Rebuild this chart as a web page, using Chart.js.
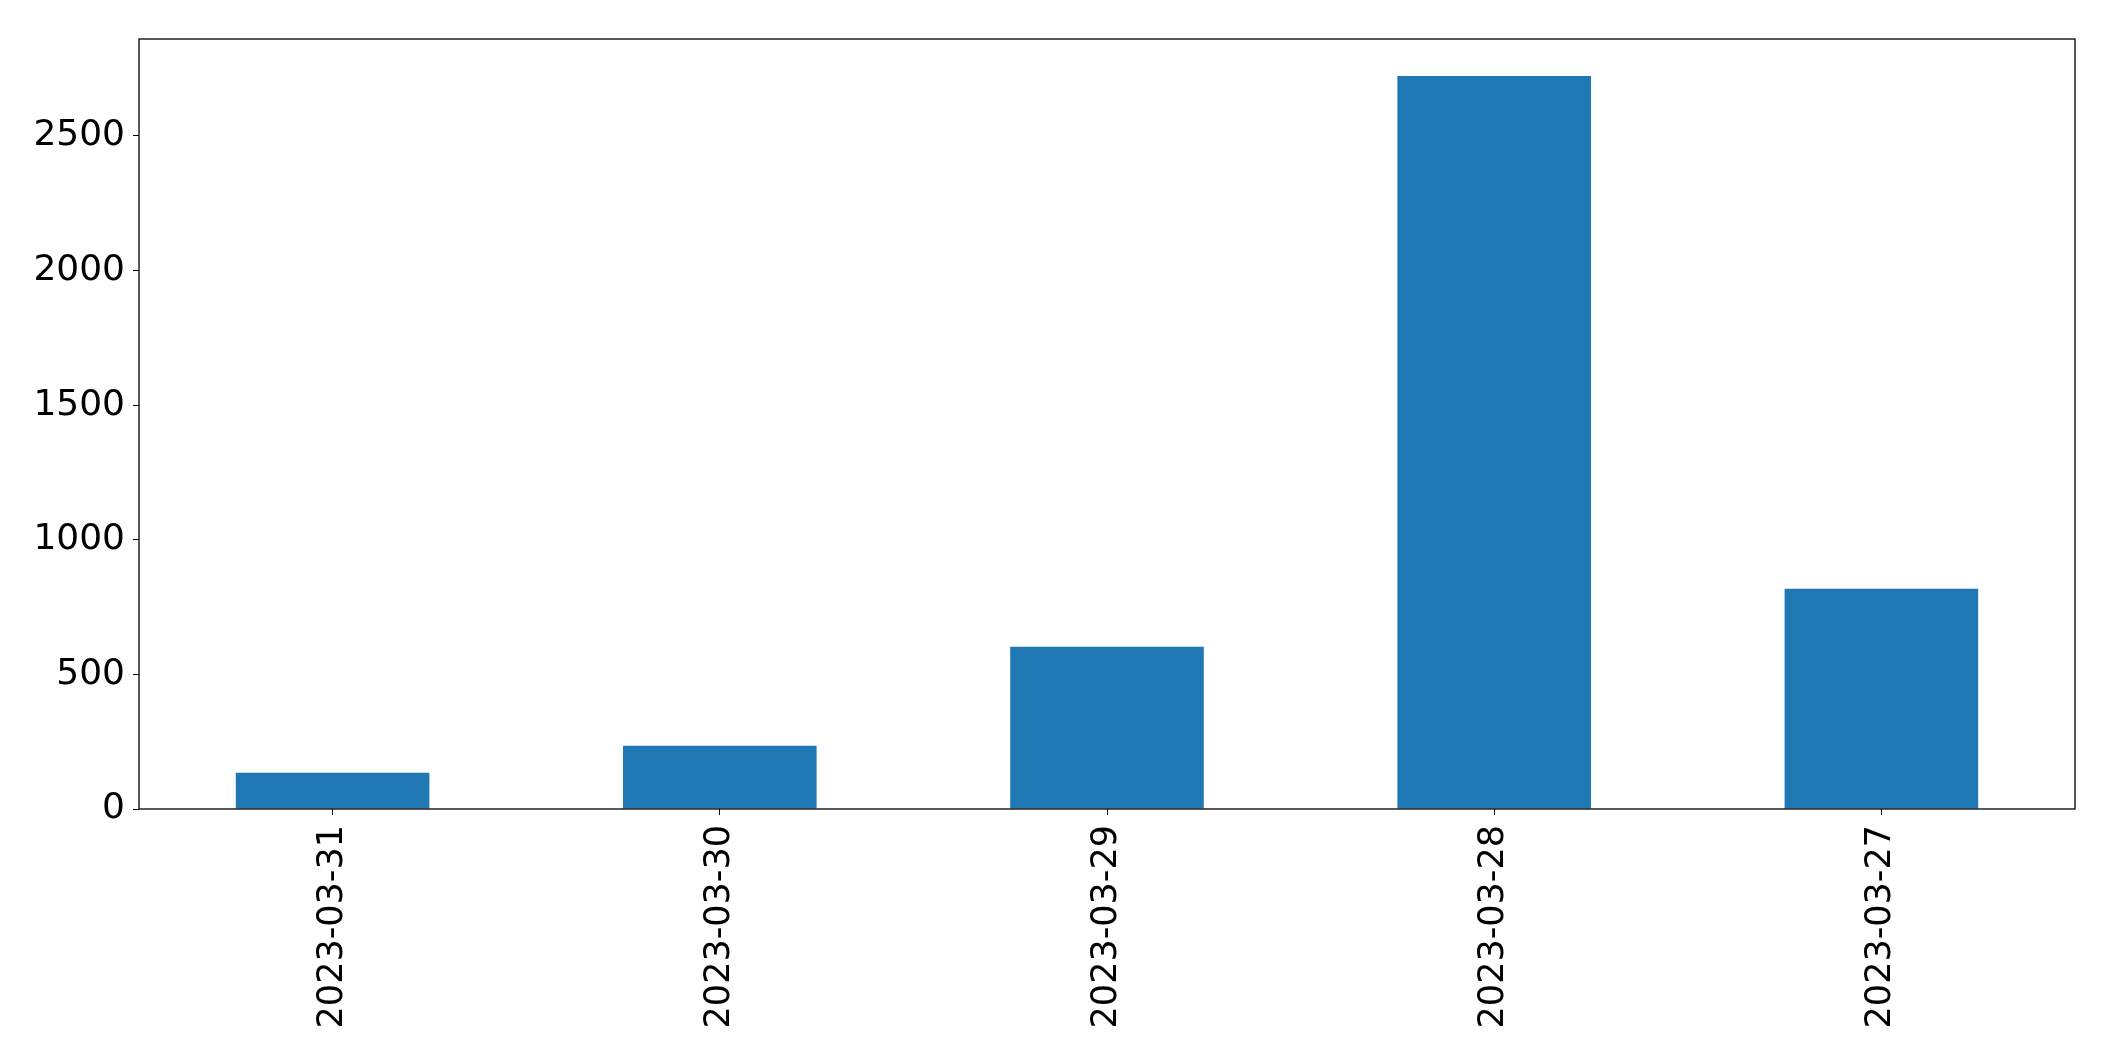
<!DOCTYPE html>
<html>
<head>
<meta charset="utf-8">
<script src="https://cdn.jsdelivr.net/npm/chart.js@4"></script>
<style>
  html, body { margin: 0; padding: 0; background: #fff; }
  #wrap { width: 2115px; height: 1061px; }
</style>
</head>
<body>
<div id="wrap"><canvas id="chart" width="2115" height="1061"></canvas></div>
<script>
// ── Data ─────────────────────────────────────────────
const dates = ['2023-03-31', '2023-03-30', '2023-03-29', '2023-03-28', '2023-03-27'];
const counts = [135, 235, 603, 2723, 818];
const yTicks = [0, 500, 1000, 1500, 2000, 2500];

Chart.defaults.font.family = "'DejaVu Sans', sans-serif";
Chart.defaults.color = '#000';

// frame round the plot area, like the matplotlib axes box
const frame = {
  id: 'frame',
  afterDraw(chart) {
    const { ctx, chartArea: a } = chart;
    ctx.save();
    ctx.strokeStyle = '#000';
    ctx.lineWidth = 1.3;
    ctx.strokeRect(a.left, a.top, a.right - a.left, a.bottom - a.top);
    ctx.restore();
  },
};

new Chart(document.getElementById('chart'), {
  type: 'bar',
  data: {
    labels: dates,
    datasets: [{
      data: counts,
      backgroundColor: '#1f77b4',
      borderWidth: 0,
      categoryPercentage: 0.5,
      barPercentage: 1.0,
    }],
  },
  options: {
    responsive: false,
    animation: false,
    layout: { padding: { top: 39, right: 40, left: 0, bottom: 0 } },
    plugins: { legend: { display: false }, tooltip: { enabled: false } },
    scales: {
      x: {
        offset: true,
        grid: { drawOnChartArea: false, color: '#000', tickLength: 6, offset: false },
        border: { display: false },
        ticks: {
          font: { size: 35 },
          color: '#000',
          minRotation: 90,
          maxRotation: 90,
          padding: 10,
        },
        afterFit(scale) { scale.height = 252; },
      },
      y: {
        min: 0,
        max: 2860,
        grid: { drawOnChartArea: false, color: '#000', tickLength: 6 },
        border: { display: false },
        afterBuildTicks(scale) { scale.ticks = yTicks.map(v => ({ value: v })); },
        ticks: {
          font: { size: 36 },
          color: '#000',
          padding: 8,
          callback: v => String(v),
        },
        afterFit(scale) { scale.width = 139; },
      },
    },
  },
  plugins: [frame],
});
</script>
</body>
</html>
